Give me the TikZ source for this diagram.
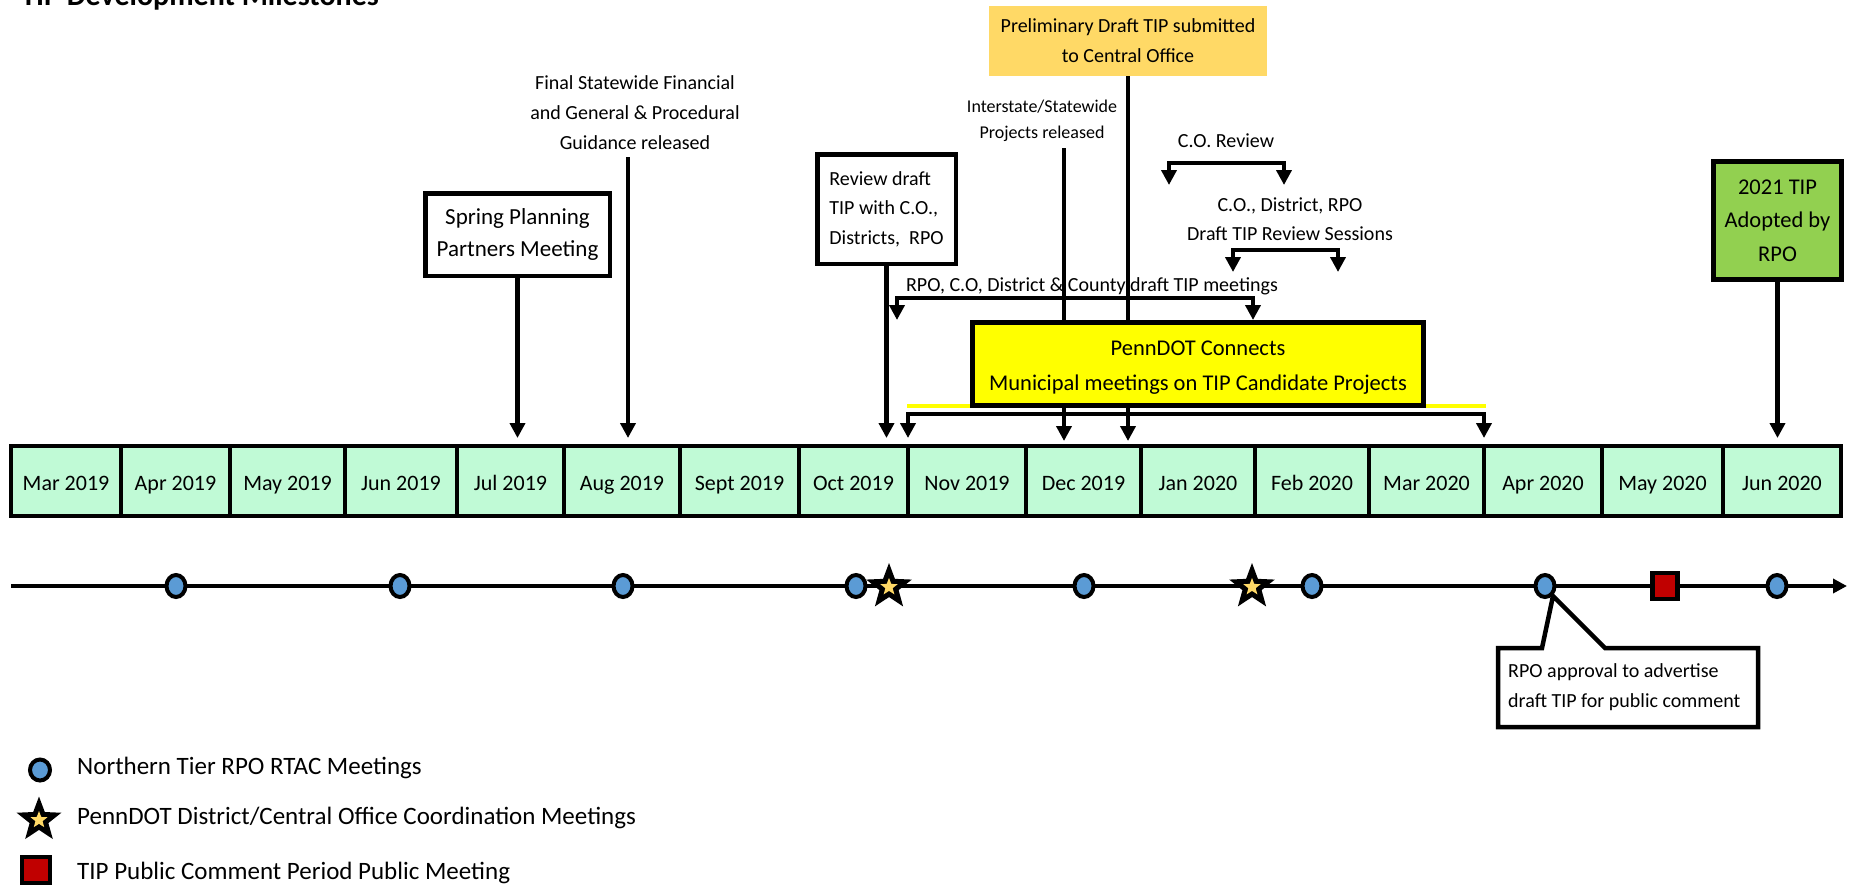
\documentclass[tikz,border=0pt]{standalone}
\usepackage{fontspec}
\setmainfont{Carlito}
\usetikzlibrary{arrows.meta,shapes.geometric}
\definecolor{mint}{RGB}{192,250,214}
\definecolor{rtacblue}{RGB}{91,155,213}
\definecolor{gold}{RGB}{255,217,102}
\definecolor{tipgreen}{RGB}{146,208,80}
\definecolor{pubred}{RGB}{192,0,0}
\definecolor{pdyellow}{RGB}{255,255,0}
\newcommand\myfs[2]{\fontsize{#1}{#2}\selectfont}
\tikzset{
  pics/pdstar/.style={code={
    \fill[black] (-90:#1) -- (-54:{0.42*#1}) -- (-18:#1) -- (18:{0.42*#1}) -- (54:#1) -- (90:{0.42*#1}) -- (126:#1) -- (162:{0.42*#1}) -- (198:#1) -- (234:{0.42*#1}) -- cycle;
    \fill[gold] (-90:{0.38*#1}) -- (-54:{0.16*#1}) -- (-18:{0.38*#1}) -- (18:{0.16*#1}) -- (54:{0.38*#1}) -- (90:{0.16*#1}) -- (126:{0.38*#1}) -- (162:{0.16*#1}) -- (198:{0.38*#1}) -- (234:{0.16*#1}) -- cycle;
  }}
}
\begin{document}
\begin{tikzpicture}[x=1pt,y=-1pt,
  arr/.style={line width=4.5pt, -{Triangle[length=15pt,width=15pt]}},
  arrtwo/.style={line width=4.5pt, {Triangle[length=15pt,width=15pt]}-{Triangle[length=15pt,width=15pt]}},
  box/.style={draw, line width=4.5pt, inner sep=0pt, align=center},
  month/.style={draw, line width=4.5pt, fill=mint, minimum height=70pt, inner sep=0pt, text height=20pt, text depth=2pt, font=\myfs{22}{26}},
  rtac/.style={ellipse, draw, line width=4pt, fill=rtacblue, minimum width=19pt, minimum height=22pt, inner sep=0pt},
  lbl/.style={font=\myfs{20}{30}, align=center, inner sep=0pt},
  leg/.style={anchor=base west, inner sep=0pt, font=\myfs{25}{30}},
]
\useasboundingbox (0,0) rectangle (1853,884);

% title
\node[anchor=base west, inner sep=0pt, font=\bfseries\myfs{30}{36}] (title) at (21,5) {TIP Development Milestones};

% helper coordinates
\coordinate (tipY) at (0,438);
\coordinate (tipYb) at (0,441);

% month bar
\foreach \a/\b/\lab [count=\i] in {11/121/Mar 2019,121/230/Apr 2019,230/345/May 2019,345/457/Jun 2019,457/564/Jul 2019,564/680/Aug 2019,680/799/Sept 2019,799/908/Oct 2019,908/1026/Nov 2019,1026/1141/Dec 2019,1141/1255/Jan 2020,1255/1369/Feb 2020,1369/1484/Mar 2020,1484/1602/Apr 2020,1602/1723/May 2020,1723/1841/Jun 2020}{
  \pgfmathsetmacro\w{\b-\a}
  \pgfmathsetmacro\cx{(\a+\b)/2}
  \node[month, minimum width=\w pt] (m\i) at (\cx,481) {\lab};
}

% Preliminary draft box
\node[lbl, fill=gold, minimum width=278pt, minimum height=70pt] (prelim) at (1128,41) {Preliminary Draft TIP submitted\\to Central Office};

% Final statewide text
\node[lbl] (fin) at (635,113) {Final Statewide Financial\\and General \& Procedural\\Guidance released};
\coordinate (finA) at (628,157);
\draw[arr] (finA) -- (finA |- tipY);

% Spring planning
\node[box, font=\myfs{23}{32}, minimum width=184.5pt, minimum height=82.5pt] (spring) at (517.5,234.5) {Spring Planning\\Partners Meeting};
\draw[arr] (spring.south) -- (spring.south |- tipY);

% Review draft box
\node[box, align=left, font=\myfs{20}{29.5}, minimum width=138.5pt, minimum height=109.5pt] (review) at (886.5,209) {Review draft\\TIP with C.O.,\\Districts,\ \ RPO};
\draw[arr] (review.south) -- (review.south |- tipY);

% Interstate text
\node[lbl, font=\myfs{18}{26}] (inter) at (1042,121) {Interstate/Statewide\\Projects released};

% C.O. Review
\node[lbl] (cor) at (1226,141) {C.O. Review};
\coordinate (corL) at (1169,185);
\coordinate (corR) at (1284,185);
\draw[arrtwo] (corL) -- ++(0,-22) -| (corR);

% Draft TIP review sessions
\node[lbl, font=\myfs{20}{29}] (dtr) at (1290,219) {C.O., District, RPO\\Draft TIP Review Sessions};
\coordinate (dtrL) at (1233,272);
\coordinate (dtrR) at (1338,272);
\draw[arrtwo] (dtrL) -- ++(0,-22) -| (dtrR);

% RPO meetings
\node[lbl] (rpom) at (1092,286) {RPO, C.O, District \& County draft TIP meetings};
\coordinate (rpoL) at (897,320);
\coordinate (rpoR) at (1253,320);
\draw[arrtwo] (rpoL) -- ++(0,-22) -| (rpoR);

% vertical lines through PennDOT box
\coordinate (intA) at (1064,148);
\draw[arr] (intA) -- (intA |- tipYb);
\draw[arr] (prelim.south) -- (prelim.south |- tipYb);

% yellow underline
\coordinate (ylA) at (907,406);
\coordinate (ylB) at (1486,406);
\draw[pdyellow, line width=4pt] (ylA) -- (ylB);

% PennDOT Connects box
\node[box, fill=pdyellow, line width=5pt, minimum width=451pt, minimum height=83pt] (pdc) at (1198,364) {};
\node[lbl, font=\myfs{22.5}{35}] (pdctext) at (1198,368) {PennDOT Connects\\Municipal meetings on TIP Candidate Projects};

% lower bracket
\coordinate (pdL) at (908,438);
\coordinate (pdR) at (1484,438);
\draw[arrtwo] (pdL) -- ++(0,-24) -| (pdR);

% 2021 TIP adopted
\node[box, fill=tipgreen, line width=5pt, font=\myfs{22.5}{33.5}, minimum width=128pt, minimum height=118pt] (adopt) at (1777.5,220.5) {2021 TIP\\Adopted by\\RPO};
\draw[arr] (adopt.south) -- (adopt.south |- tipY);

% timeline
\coordinate (tlS) at (11,586);
\coordinate (tlE) at (1847,586);
\draw[line width=4pt, -{Triangle[length=14pt,width=14pt]}] (tlS) -- (tlE);

% callout
\coordinate (cA) at (1498,648);
\coordinate (cB) at (1542,648);
\coordinate (cTip) at (1553,596);
\coordinate (cC) at (1605,648);
\coordinate (cD) at (1758,648);
\coordinate (cE) at (1758,727);
\coordinate (cF) at (1498,727);
\draw[line width=4.5pt, fill=white] (cA) -- (cB) -- (cTip) -- (cC) -- (cD) -- (cE) -- (cF) -- cycle;
\node[anchor=west, align=left, inner sep=0pt, font=\myfs{20}{30}] (cotext) at (1508,687) {RPO approval to advertise\\draft TIP for public comment};

% RTAC meetings
\foreach \x [count=\i] in {176,400,623,856,1084,1312,1545,1777}
  \node[rtac] (c\i) at (\x,586) {};

% coordination stars
\pic (s1) at (889,587) {pdstar=24};
\pic (s2) at (1252,587) {pdstar=24};

% public meeting square
\node[draw, line width=4.5pt, fill=pubred, minimum width=25pt, minimum height=26pt, inner sep=0pt] (pm) at (1665,586) {};

% legend
\node[rtac, minimum width=20pt, minimum height=21pt] (lg1) at (40,770) {};
\node[leg] (lt1) at (77,774) {Northern Tier RPO RTAC Meetings};
\pic (lg2) at (39,820) {pdstar=23.5};
\node[leg] (lt2) at (77,824) {PennDOT District/Central Office Coordination Meetings};
\node[draw, line width=4.5pt, fill=pubred, minimum width=28pt, minimum height=26pt, inner sep=0pt] (lg3) at (36,870) {};
\node[leg] (lt3) at (77,879) {TIP Public Comment Period Public Meeting};
\end{tikzpicture}
\end{document}
